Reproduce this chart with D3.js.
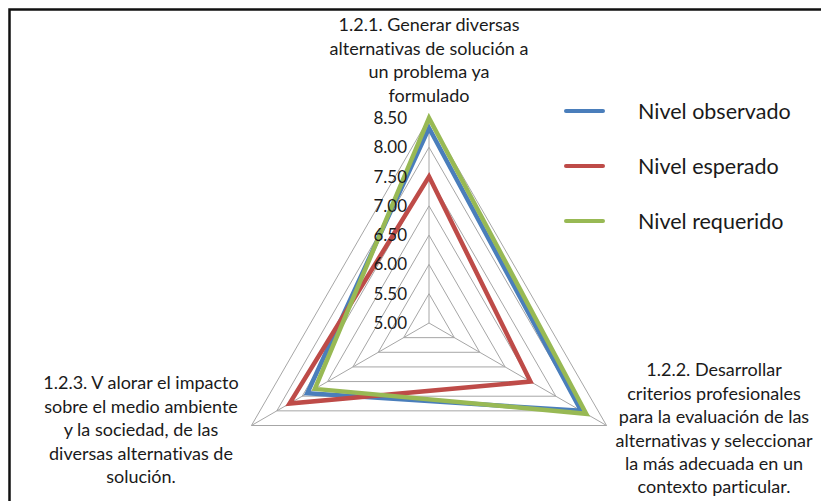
<!DOCTYPE html>
<html><head><meta charset="utf-8">
<script src="https://cdn.jsdelivr.net/npm/d3@7"></script>
<style>
html,body{margin:0;padding:0;background:#fff;}
svg{display:block;}
text{font-family:Lato,"Open Sans",sans-serif;fill:#1a1a1a;font-variant-ligatures:none;}
</style></head>
<body>
<svg id="c" width="821" height="501"></svg>
<script>
const categories = [
  ["1.2.1. Generar diversas","alternativas de solución a","un problema ya","formulado"],
  ["1.2.2. Desarrollar","criterios profesionales","para la evaluación de las","alternativas y seleccionar","la más adecuada en un","contexto particular."],
  ["1.2.3. V alorar el impacto","sobre el medio ambiente","y la sociedad, de las","diversas alternativas de","solución."]
];
const seriesNames = ["Nivel observado","Nivel esperado","Nivel requerido"];
const observado = [8.33, 8.0, 7.4];
const esperado  = [7.5, 7.0, 7.75];
const requerido = [8.5, 8.1, 7.25];
const tickValues = [5.0, 5.5, 6.0, 6.5, 7.0, 7.5, 8.0, 8.5];
const colors = ["#4a7ebb","#be4b48","#98b954"];

const svg = d3.select("#c");
// frame (top & left edges visible)
svg.append("path").attr("d","M9.5,600 V9.5 H900").attr("fill","none").attr("stroke","#111").attr("stroke-width",2.5);

const cx = 429, cy = 323;
const r = d3.scaleLinear().domain([5, 8.5]).range([0, 205]);
const ang = d3.scaleLinear().domain([0, categories.length]).range([-Math.PI/2, 1.5*Math.PI]);
const pt = (i, v) => [cx + r(v)*Math.cos(ang(i)), cy + r(v)*Math.sin(ang(i))];

const g = svg.append("g");
// grid rings
tickValues.slice(1).forEach(t => {
  g.append("path")
   .attr("d", d3.line()(d3.range(categories.length).map(i => pt(i,t))) + "Z")
   .attr("fill","none").attr("stroke","#a6a6a6").attr("stroke-width",1);
});
// spokes
d3.range(categories.length).forEach(i => {
  const p = pt(i, 8.5);
  g.append("line").attr("x1",cx).attr("y1",cy).attr("x2",p[0]).attr("y2",p[1])
   .attr("stroke","#a6a6a6").attr("stroke-width",1);
});

// series
const allSeries = [observado, esperado, requerido];
allSeries.forEach((s, k) => {
  g.append("path")
   .attr("d", d3.line()(s.map((v,i)=>pt(i,v))) + "Z")
   .attr("fill","none").attr("stroke",colors[k]).attr("stroke-width",4.5)
   .attr("stroke-linejoin","miter");
});

// tick labels (drawn over the series)
g.selectAll(".tk").data(tickValues).enter().append("text")
  .attr("x", cx - 22).attr("y", d => cy - r(d)).attr("dy","0.35em")
  .attr("text-anchor","end").attr("font-size",17)
  .text(d => d3.format(".2f")(d));

// category labels
const labelPos = [
  {x: 429, y: 25},
  {x: 714, y: 370},
  {x: 141, y: 383}
];
categories.forEach((lines, i) => {
  const t = svg.append("text").attr("text-anchor","middle").attr("font-size",18);
  lines.forEach((ln, j) => {
    t.append("tspan").attr("x", labelPos[i].x).attr("y", labelPos[i].y + j*23.4)
     .attr("dy","0.35em").text(ln);
  });
});

// legend
seriesNames.forEach((n, k) => {
  const y = 111 + k*55;
  svg.append("line").attr("x1",566).attr("x2",603).attr("y1",y).attr("y2",y)
    .attr("stroke",colors[k]).attr("stroke-width",4).attr("stroke-linecap","round");
  svg.append("text").attr("x",638).attr("y",y).attr("dy","0.35em").attr("font-size",21.5).text(n);
});
</script>
</body></html>
